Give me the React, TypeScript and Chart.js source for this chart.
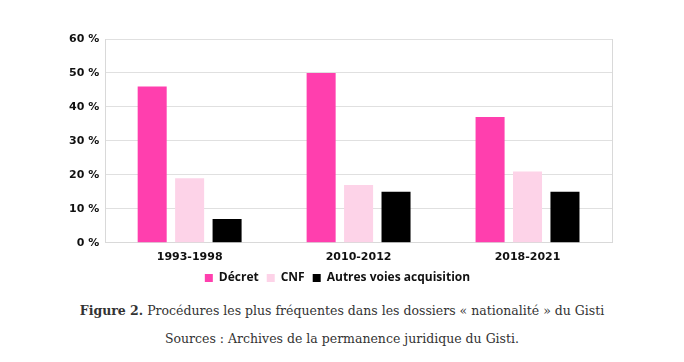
import React, { useEffect, useRef } from "react";
import { Chart, registerables } from "chart.js";

Chart.register(...registerables);

const categories = ["1993-1998", "2010-2012", "2018-2021"];
const decret = [46, 50, 37];
const cnf = [19, 17, 21];
const autres = [7, 15, 15];
const seriesNames = ["Décret", "CNF", "Autres voies acquisition"];

const borderPlugin = {
  id: "rightBorder",
  afterDraw(chart: any) {
    const { ctx, chartArea } = chart;
    ctx.save();
    ctx.strokeStyle = "#d9d9d9";
    ctx.lineWidth = 1;
    ctx.beginPath();
    ctx.moveTo(chartArea.right + 0.5, chartArea.top);
    ctx.lineTo(chartArea.right + 0.5, chartArea.bottom);
    ctx.stroke();
    ctx.restore();
  },
};

export default function App() {
  const ref = useRef<HTMLCanvasElement>(null);
  useEffect(() => {
    const chart = new Chart(ref.current!, {
      type: "bar",
      data: {
        labels: categories,
        datasets: [
          { label: seriesNames[0], data: decret, backgroundColor: "#ff3fae" },
          { label: seriesNames[1], data: cnf, backgroundColor: "#fdd3e8" },
          { label: seriesNames[2], data: autres, backgroundColor: "#000000" },
        ],
      },
      options: {
        animation: false,
        responsive: false,
        maintainAspectRatio: false,
        layout: { padding: { left: 63, right: 72, top: 39, bottom: 0 } },
        datasets: { bar: { categoryPercentage: 0.665, barPercentage: 0.775 } },
        plugins: {
          legend: {
            position: "bottom",
            labels: {
              boxWidth: 8,
              boxHeight: 8,
              padding: 8,
              color: "#111",
              font: { family: "Open Sans", size: 12, weight: "bold" },
            },
          },
          tooltip: { enabled: false },
        },
        scales: {
          x: {
            grid: { display: false },
            border: { color: "#d9d9d9" },
            ticks: { color: "#111", font: { family: "Verdana, DejaVu Sans", size: 11, weight: "bold" }, padding: 0 },
          },
          y: {
            min: 0,
            max: 60,
            ticks: {
              stepSize: 10,
              color: "#111",
              padding: 6,
              font: { family: "Verdana, DejaVu Sans", size: 11, weight: "bold" },
              callback: (v: any) => v + " %",
            },
            grid: { color: "#e0e0e0", drawTicks: false },
            border: { color: "#d9d9d9" },
          },
        },
      },
      plugins: [borderPlugin],
    });
    return () => chart.destroy();
  }, []);
  return (
    <div style={{ position: "relative", width: 684, height: 362, margin: -8, background: "#fff" }}>
      <canvas ref={ref} width={684} height={294} style={{ position: "absolute", left: 0, top: 0 }} />
      <div style={{ position: "absolute", left: 0, width: 684, top: 303, textAlign: "center", fontFamily: "DejaVu Serif", fontSize: 12.5, color: "#333" }}>
        <b>Figure 2.</b> Procédures les plus fréquentes dans les dossiers « nationalité » du Gisti
      </div>
      <div style={{ position: "absolute", left: 0, width: 684, top: 331, textAlign: "center", fontFamily: "DejaVu Serif", fontSize: 12.5, color: "#333" }}>
        Sources : Archives de la permanence juridique du Gisti.
      </div>
    </div>
  );
}
